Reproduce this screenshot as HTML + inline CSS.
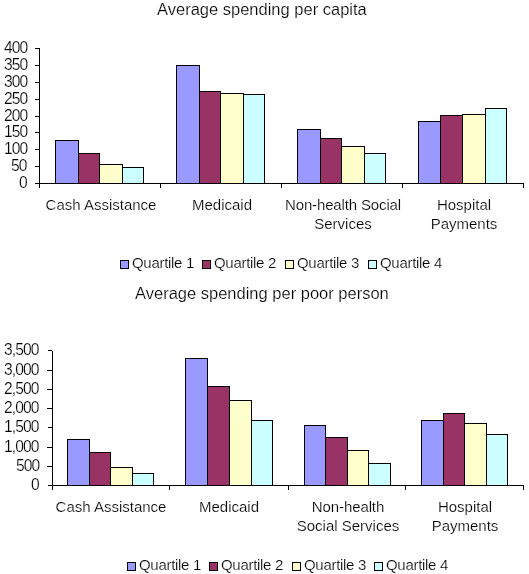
<!DOCTYPE html>
<html><head><meta charset="utf-8"><style>
html,body{margin:0;padding:0;background:#fff;}
body{width:529px;height:574px;position:relative;overflow:hidden;font-family:"Liberation Sans",sans-serif;color:#000;}
div,span{position:absolute;box-sizing:border-box;}
.b{border:1px solid #000;}
span{white-space:nowrap;line-height:20px;will-change:transform;-webkit-text-stroke:0.2px #fff;}
.f{font-size:15px;}
.t{font-size:16.5px;}
.c{text-align:center;}
.lg{letter-spacing:-0.3px;}
.yl{font-size:15.6px;letter-spacing:-0.9px;}
</style></head><body>
<div class="b" style="left:55px;top:140px;width:24px;height:44px;background:#9999FF"></div>
<div class="b" style="left:78px;top:153px;width:22px;height:31px;background:#993366"></div>
<div class="b" style="left:99px;top:164px;width:24px;height:20px;background:#FFFFCC"></div>
<div class="b" style="left:122px;top:167px;width:22px;height:17px;background:#CCFFFF"></div>
<div class="b" style="left:176px;top:65px;width:24px;height:119px;background:#9999FF"></div>
<div class="b" style="left:199px;top:91px;width:22px;height:93px;background:#993366"></div>
<div class="b" style="left:220px;top:93px;width:24px;height:91px;background:#FFFFCC"></div>
<div class="b" style="left:243px;top:94px;width:22px;height:90px;background:#CCFFFF"></div>
<div class="b" style="left:297px;top:129px;width:24px;height:55px;background:#9999FF"></div>
<div class="b" style="left:320px;top:138px;width:22px;height:46px;background:#993366"></div>
<div class="b" style="left:341px;top:146px;width:24px;height:38px;background:#FFFFCC"></div>
<div class="b" style="left:364px;top:153px;width:22px;height:31px;background:#CCFFFF"></div>
<div class="b" style="left:418px;top:121px;width:23px;height:63px;background:#9999FF"></div>
<div class="b" style="left:440px;top:115px;width:23px;height:69px;background:#993366"></div>
<div class="b" style="left:462px;top:114px;width:24px;height:70px;background:#FFFFCC"></div>
<div class="b" style="left:485px;top:108px;width:22px;height:76px;background:#CCFFFF"></div>
<div style="left:39px;top:48px;width:1px;height:140px;background:#000"></div>
<div style="left:35px;top:183px;width:489px;height:1px;background:#000"></div>
<div style="left:35px;top:48px;width:4px;height:1px;background:#000"></div>
<div style="left:35px;top:65px;width:4px;height:1px;background:#000"></div>
<div style="left:35px;top:82px;width:4px;height:1px;background:#000"></div>
<div style="left:35px;top:99px;width:4px;height:1px;background:#000"></div>
<div style="left:35px;top:116px;width:4px;height:1px;background:#000"></div>
<div style="left:35px;top:132px;width:4px;height:1px;background:#000"></div>
<div style="left:35px;top:149px;width:4px;height:1px;background:#000"></div>
<div style="left:35px;top:166px;width:4px;height:1px;background:#000"></div>
<div style="left:35px;top:183px;width:4px;height:1px;background:#000"></div>
<div style="left:39px;top:183px;width:1px;height:5px;background:#000"></div>
<div style="left:160px;top:183px;width:1px;height:5px;background:#000"></div>
<div style="left:281px;top:183px;width:1px;height:5px;background:#000"></div>
<div style="left:402px;top:183px;width:1px;height:5px;background:#000"></div>
<div style="left:523px;top:183px;width:1px;height:5px;background:#000"></div>
<span class="f yl" style="right:502px;top:38px">400</span>
<span class="f yl" style="right:502px;top:55px">350</span>
<span class="f yl" style="right:502px;top:72px">300</span>
<span class="f yl" style="right:502px;top:89px">250</span>
<span class="f yl" style="right:502px;top:106px">200</span>
<span class="f yl" style="right:502px;top:122px">150</span>
<span class="f yl" style="right:502px;top:139px">100</span>
<span class="f yl" style="right:502px;top:156px">50</span>
<span class="f yl" style="right:502px;top:173px">0</span>
<span class="t" style="left:157px;top:-1px">Average spending per capita</span>
<span class="f c" style="left:0.5px;top:195px;width:200px;">Cash Assistance</span>
<span class="f c" style="left:121.5px;top:195px;width:200px;">Medicaid</span>
<span class="f c" style="left:242.5px;top:195px;width:200px;letter-spacing:-0.14px">Non-health Social</span>
<span class="f c" style="left:242.5px;top:214px;width:200px;">Services</span>
<span class="f c" style="left:363.5px;top:195px;width:200px;">Hospital</span>
<span class="f c" style="left:363.5px;top:214px;width:200px;">Payments</span>
<div class="b" style="left:120px;top:260px;width:9px;height:9px;background:#9999FF"></div>
<span class="f lg" style="left:132px;top:253px">Quartile 1</span>
<div class="b" style="left:202px;top:260px;width:9px;height:9px;background:#993366"></div>
<span class="f lg" style="left:214px;top:253px">Quartile 2</span>
<div class="b" style="left:285px;top:260px;width:9px;height:9px;background:#FFFFCC"></div>
<span class="f lg" style="left:297px;top:253px">Quartile 3</span>
<div class="b" style="left:368px;top:260px;width:9px;height:9px;background:#CCFFFF"></div>
<span class="f lg" style="left:380px;top:253px">Quartile 4</span>
<div class="b" style="left:67px;top:439px;width:23px;height:47px;background:#9999FF"></div>
<div class="b" style="left:89px;top:452px;width:22px;height:34px;background:#993366"></div>
<div class="b" style="left:110px;top:467px;width:23px;height:19px;background:#FFFFCC"></div>
<div class="b" style="left:132px;top:473px;width:22px;height:13px;background:#CCFFFF"></div>
<div class="b" style="left:185px;top:358px;width:23px;height:128px;background:#9999FF"></div>
<div class="b" style="left:207px;top:386px;width:23px;height:100px;background:#993366"></div>
<div class="b" style="left:229px;top:400px;width:23px;height:86px;background:#FFFFCC"></div>
<div class="b" style="left:251px;top:420px;width:22px;height:66px;background:#CCFFFF"></div>
<div class="b" style="left:304px;top:425px;width:22px;height:61px;background:#9999FF"></div>
<div class="b" style="left:325px;top:437px;width:23px;height:49px;background:#993366"></div>
<div class="b" style="left:347px;top:450px;width:22px;height:36px;background:#FFFFCC"></div>
<div class="b" style="left:368px;top:463px;width:23px;height:23px;background:#CCFFFF"></div>
<div class="b" style="left:421px;top:420px;width:23px;height:66px;background:#9999FF"></div>
<div class="b" style="left:443px;top:413px;width:22px;height:73px;background:#993366"></div>
<div class="b" style="left:464px;top:423px;width:23px;height:63px;background:#FFFFCC"></div>
<div class="b" style="left:486px;top:434px;width:22px;height:52px;background:#CCFFFF"></div>
<div style="left:52px;top:351px;width:1px;height:139px;background:#000"></div>
<div style="left:48px;top:485px;width:476px;height:1px;background:#000"></div>
<div style="left:48px;top:350px;width:4px;height:1px;background:#000"></div>
<div style="left:47px;top:370px;width:5px;height:1px;background:#000"></div>
<div style="left:47px;top:389px;width:5px;height:1px;background:#000"></div>
<div style="left:47px;top:408px;width:5px;height:1px;background:#000"></div>
<div style="left:48px;top:427px;width:4px;height:1px;background:#000"></div>
<div style="left:47px;top:447px;width:5px;height:1px;background:#000"></div>
<div style="left:47px;top:466px;width:5px;height:1px;background:#000"></div>
<div style="left:48px;top:485px;width:4px;height:1px;background:#000"></div>
<div style="left:52px;top:485px;width:1px;height:5px;background:#000"></div>
<div style="left:169px;top:485px;width:1px;height:5px;background:#000"></div>
<div style="left:288px;top:485px;width:1px;height:5px;background:#000"></div>
<div style="left:405px;top:485px;width:1px;height:5px;background:#000"></div>
<div style="left:523px;top:485px;width:1px;height:5px;background:#000"></div>
<span class="f yl" style="right:490px;top:340px">3,500</span>
<span class="f yl" style="right:490px;top:360px">3,000</span>
<span class="f yl" style="right:490px;top:379px">2,500</span>
<span class="f yl" style="right:490px;top:398px">2,000</span>
<span class="f yl" style="right:490px;top:417px">1,500</span>
<span class="f yl" style="right:490px;top:437px">1,000</span>
<span class="f yl" style="right:490px;top:456px">500</span>
<span class="f yl" style="right:490px;top:475px">0</span>
<span class="t" style="left:135px;top:283px">Average spending per poor person</span>
<span class="f c" style="left:11px;top:497px;width:200px;">Cash Assistance</span>
<span class="f c" style="left:128.5px;top:497px;width:200px;">Medicaid</span>
<span class="f c" style="left:247.5px;top:497px;width:200px;letter-spacing:-0.1px">Non-health</span>
<span class="f c" style="left:247.5px;top:516px;width:200px;">Social Services</span>
<span class="f c" style="left:364.5px;top:497px;width:200px;">Hospital</span>
<span class="f c" style="left:364.5px;top:516px;width:200px;">Payments</span>
<div class="b" style="left:127px;top:562px;width:9px;height:9px;background:#9999FF"></div>
<span class="f lg" style="left:139px;top:555px">Quartile 1</span>
<div class="b" style="left:209px;top:562px;width:9px;height:9px;background:#993366"></div>
<span class="f lg" style="left:221px;top:555px">Quartile 2</span>
<div class="b" style="left:292px;top:562px;width:9px;height:9px;background:#FFFFCC"></div>
<span class="f lg" style="left:304px;top:555px">Quartile 3</span>
<div class="b" style="left:374px;top:562px;width:9px;height:9px;background:#CCFFFF"></div>
<span class="f lg" style="left:386px;top:555px">Quartile 4</span>
</body></html>
